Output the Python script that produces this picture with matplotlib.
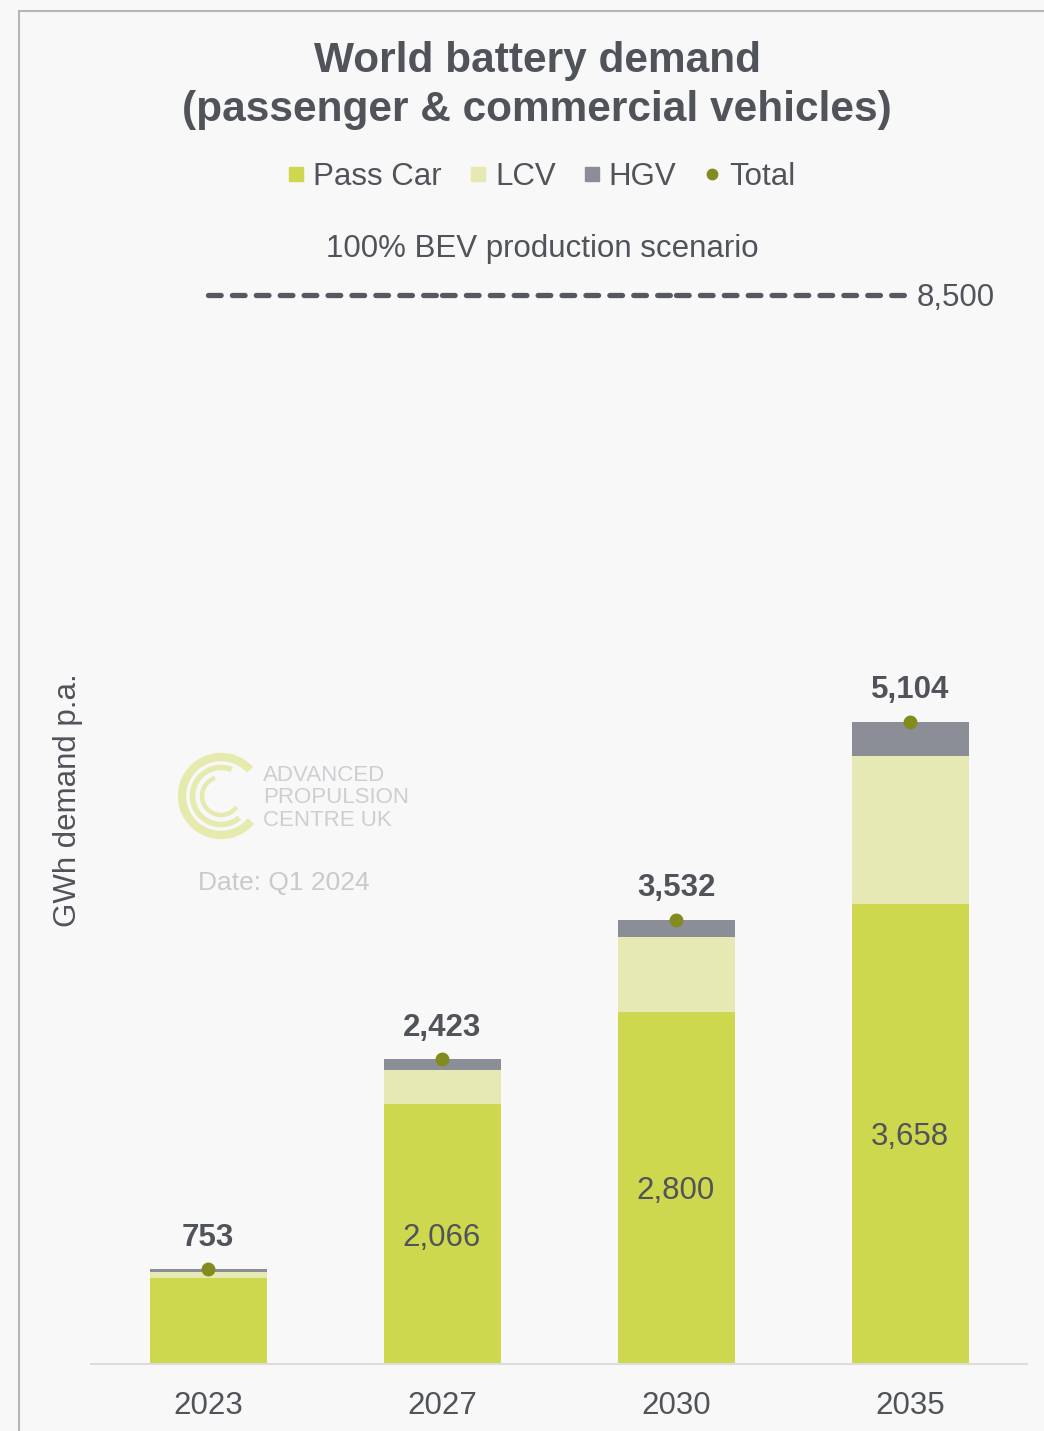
import matplotlib
matplotlib.use('Agg')
import matplotlib.pyplot as plt
from matplotlib.patches import Arc
from matplotlib.lines import Line2D

# ---------------- data ----------------
years = ['2023', '2027', '2030', '2035']
pass_car = [686, 2066, 2800, 3658]
lcv = [45, 271, 591, 1176]
hgv = [22, 86, 141, 270]
totals = [753, 2423, 3532, 5104]
scenario_value = 8500
series_labels = ['Pass Car', 'LCV', 'HGV', 'Total']
title_lines = ['World battery demand', '(passenger & commercial vehicles)']
subtitle = '100% BEV production scenario'
ylabel = 'GWh demand p.a.'
logo_text = 'ADVANCED\nPROPULSION\nCENTRE UK'
date_text = 'Date: Q1 2024'

# ---------------- style ----------------
W, H = 1044, 1431
plt.rcParams['font.family'] = ['Liberation Sans', 'DejaVu Sans']
TXT = '#505359'
C_PASS = '#cdd84f'
C_LCV = '#e6e9b4'
C_HGV = '#8b8e96'
C_TOT = '#838b1f'
BG = '#f8f8f8'
FS = 22.5

def fx(x):
    return x / W

def fy(y):
    return 1 - y / H

fig = plt.figure(figsize=(W / 100, H / 100), dpi=100, facecolor=BG)

# border
fig.add_artist(Line2D([fx(19), fx(19)], [fy(11), 0], color='#b5b6ba', lw=1.5))
fig.add_artist(Line2D([fx(19), 1], [fy(11), fy(11)], color='#b5b6ba', lw=1.5))

ax_l, ax_r, ax_b, ax_t = 91, 1027, 1364, 250
ax = fig.add_axes([fx(ax_l), fy(ax_b), fx(ax_r - ax_l), (ax_b - ax_t) / H])
ax.set_facecolor(BG)

x = list(range(len(years)))
bw = 0.5
bottom2 = [p + l for p, l in zip(pass_car, lcv)]
ax.bar(x, pass_car, bw, color=C_PASS, label=series_labels[0], zorder=2)
ax.bar(x, lcv, bw, bottom=pass_car, color=C_LCV, label=series_labels[1], zorder=2)
ax.bar(x, hgv, bw, bottom=bottom2, color=C_HGV, label=series_labels[2], zorder=2)
ax.plot(x, totals, 'o', color=C_TOT, markersize=9, zorder=4, label=series_labels[3])

# scenario dashed line (one dashed segment per category gap, like Excel)
for i in range(len(x) - 1):
    ax.plot([x[i], x[i + 1]], [scenario_value, scenario_value], color='#55585e',
            lw=3.8, linestyle=(0, (2.4, 2.13)), dash_capstyle='round', zorder=3)
ax.annotate(f'{scenario_value:,}', (x[-1], scenario_value), xytext=(5, 0),
            textcoords='offset points', ha='left', va='center_baseline',
            fontsize=FS, color=TXT)

# labels
for i, t in enumerate(totals):
    ax.annotate(f'{t:,}', (x[i], t), xytext=(0, 17), textcoords='offset points',
                ha='center', va='baseline', fontsize=FS, fontweight='bold', color=TXT)
for i, p in enumerate(pass_car):
    if p >= 1000:
        ax.text(x[i], p / 2, f'{p:,}', ha='center', va='center_baseline',
                fontsize=FS, color=TXT, zorder=5)

ax.set_xlim(-0.5, 3.5)
ax.set_ylim(0, 8857)
ax.set_xticks(x)
ax.set_xticklabels(years, fontsize=FS, color=TXT)
ax.tick_params(axis='x', length=0, pad=19.5)
ax.set_yticks([])
for s in ['left', 'right', 'top']:
    ax.spines[s].set_visible(False)
ax.spines['bottom'].set_color('#dcdcdc')
ax.spines['bottom'].set_linewidth(1.5)

# legend
handles = [
    Line2D([], [], marker='s', linestyle='none', color=C_PASS, markersize=10.5),
    Line2D([], [], marker='s', linestyle='none', color=C_LCV, markersize=10.5),
    Line2D([], [], marker='s', linestyle='none', color=C_HGV, markersize=10.5),
    Line2D([], [], marker='o', linestyle='none', color=C_TOT, markersize=7.5),
]
fig.legend(handles, series_labels, loc='center', bbox_to_anchor=(fx(542), fy(177)),
           ncol=4, frameon=False, fontsize=FS, handlelength=0.5, handletextpad=0.3,
           columnspacing=0.9, labelcolor=TXT, borderpad=0, borderaxespad=0)

# titles
fig.text(fx(537), fy(61), title_lines[0], ha='center', va='center',
         fontsize=30.5, fontweight='bold', color=TXT)
fig.text(fx(537), fy(110), title_lines[1], ha='center', va='center',
         fontsize=30.5, fontweight='bold', color=TXT)
fig.text(fx(542), fy(249), subtitle, ha='center', va='center', fontsize=FS, color=TXT)
fig.text(fx(68), fy(800), ylabel, ha='center', va='center', rotation=90,
         fontsize=FS, color=TXT)

# watermark logo
lax = fig.add_axes([fx(170), fy(850), fx(100), 100 / H])
lax.set_xlim(170, 270)
lax.set_ylim(850, 750)
lax.set_aspect('equal')
lax.axis('off')
LG = '#e6eaae'
cx, cy = 221, 796
lax.add_patch(Arc((cx, cy), 78, 78, theta1=40, theta2=318, lw=6, color=LG))
lax.add_patch(Arc((cx, cy), 57, 57, theta1=50, theta2=292, lw=4, color=LG))
lax.add_patch(Arc((cx, cy), 38, 38, theta1=35, theta2=252, lw=3.2, color=LG))
fig.text(fx(263), fy(798), logo_text, ha='left', va='center', fontsize=16,
         color='#cdced2', linespacing=1.1, fontweight='medium')
fig.text(fx(198), fy(883), date_text, ha='left', va='center', fontsize=19,
         color='#c9cacd')

fig.savefig('out.png', dpi=100, facecolor=BG)
